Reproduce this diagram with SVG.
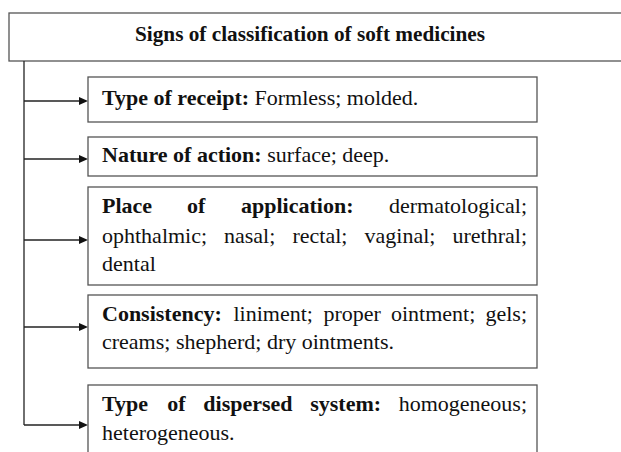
<svg xmlns="http://www.w3.org/2000/svg" width="621" height="452" viewBox="0 0 621 452">
<style>
.box{fill:#fff;stroke:#555;stroke-width:1.3}
text{font-family:"Liberation Serif","Times New Roman",Times,"DejaVu Serif",serif;font-size:22px;fill:#111}
.b{font-weight:bold}
.c{stroke:#222;stroke-width:1.3;fill:none}
.ah{fill:#111}
</style>
<rect width="621" height="452" fill="#fff"/>
<g id="title">
<rect class="box" x="9" y="13" width="620" height="48"/>
<text class="b" x="135" y="41" textLength="350" lengthAdjust="spacingAndGlyphs">Signs of classification of soft medicines</text>
</g>
<g id="connectors">
<path class="c" d="M24,61 V425"/>
<path class="c" d="M24,101 H82"/>
<path class="c" d="M24,159 H82"/>
<path class="c" d="M24,240 H82"/>
<path class="c" d="M24,327 H82"/>
<path class="c" d="M24,425 H82"/>
<path class="ah" d="M79,97 L88,101 L79,105 z"/>
<path class="ah" d="M79,155 L88,159 L79,163 z"/>
<path class="ah" d="M79,236 L88,240 L79,244 z"/>
<path class="ah" d="M79,323 L88,327 L79,331 z"/>
<path class="ah" d="M79,421 L88,425 L79,429 z"/>
</g>
<g id="receipt">
<rect class="box" x="88" y="77" width="449" height="45"/>
<text x="102" y="105"><tspan class="b">Type of receipt:</tspan> Formless; molded.</text>
</g>
<g id="action">
<rect class="box" x="88" y="137" width="449" height="39"/>
<text x="102" y="162"><tspan class="b">Nature of action:</tspan> surface; deep.</text>
</g>
<g id="place">
<rect class="box" x="88" y="187" width="449" height="98"/>
<text class="b" x="102" y="213">Place</text>
<text class="b" x="187" y="213">of</text>
<text class="b" x="241" y="213">application:</text>
<text x="527" y="213" text-anchor="end">dermatological;</text>
<text x="102" y="243">ophthalmic;</text>
<text x="224" y="243">nasal;</text>
<text x="292.5" y="243">rectal;</text>
<text x="364.5" y="243">vaginal;</text>
<text x="527" y="243" text-anchor="end">urethral;</text>
<text x="102" y="271">dental</text>
</g>
<g id="consistency">
<rect class="box" x="88" y="295" width="449" height="73"/>
<text class="b" x="102" y="321">Consistency:</text>
<text x="233.5" y="321">liniment;</text>
<text x="323.5" y="321">proper</text>
<text x="391" y="321">ointment;</text>
<text x="527" y="321" text-anchor="end">gels;</text>
<text x="102" y="349">creams; shepherd; dry ointments.</text>
</g>
<g id="dispersed">
<rect class="box" x="88" y="385" width="449" height="80"/>
<text class="b" x="102" y="411">Type</text>
<text class="b" x="167.3" y="411">of</text>
<text class="b" x="203.3" y="411">dispersed</text>
<text class="b" x="310.2" y="411">system:</text>
<text x="527" y="411" text-anchor="end">homogeneous;</text>
<text x="102" y="440">heterogeneous.</text>
</g>
</svg>
